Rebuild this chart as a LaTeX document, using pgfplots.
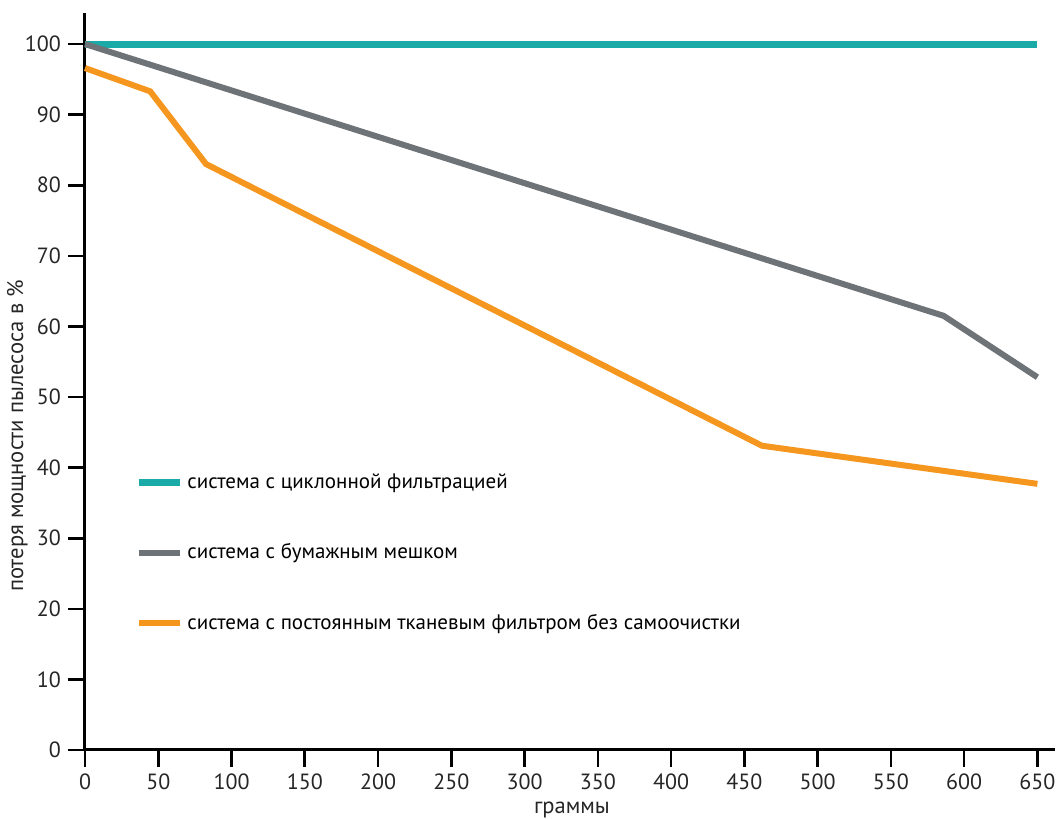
\documentclass[border=0pt]{standalone}
\usepackage{fontspec}
\setmainfont{PT Sans}
\usepackage{pgfplots}
\pgfplotsset{compat=1.18}
\definecolor{cteal}{HTML}{1AABA8}
\definecolor{cgray}{HTML}{6E7378}
\definecolor{corange}{HTML}{F5961E}
\begin{document}
\begin{tikzpicture}
\begin{axis}[
  scale only axis,
  width=485pt, height=368.5pt,
  xmin=0, xmax=662, ymin=0, ymax=104.4,
  axis x line*=bottom, axis y line*=left,
  axis line style={line width=1.5pt, -},
  xtick={0,50,...,650},
  ytick={0,10,...,100},
  xtick pos=bottom, ytick pos=left,
  xtick align=outside, ytick align=outside,
  major tick length=8.5pt,
  major tick style={line width=1.3pt, draw=black},
  /pgf/number format/assume math mode=true,
  tick label style={font=\fontsize{11}{13}\selectfont, text=black!85},
  xlabel={граммы},
  ylabel={потеря мощности пылесоса в \%},
  label style={font=\fontsize{11.3}{13}\selectfont, text=black!85, inner sep=0pt},
  xlabel style={at={(rel axis cs:0.502,-0.0855)}, anchor=base},
  ylabel style={at={(rel axis cs:-0.0588,0.426)}, anchor=south},
  clip=false,
  legend style={draw=none, fill=none, at={(axis cs:30,40.3)}, anchor=north west,
    font=\fontsize{10.5}{12}\selectfont, row sep=22pt, cells={anchor=west}},
  legend image code/.code={\draw[#1] (0pt,0pt) -- (20.5pt,0pt);},
]
\addplot[cteal, line width=3.5pt] coordinates {(0,100) (650,100)};
\addlegendentry{система с циклонной фильтрацией}
\addplot[cgray, line width=3pt] coordinates {(0,100) (586,61.5) (650,52.8)};
\addlegendentry{система с бумажным мешком}
\addplot[corange, line width=3pt] coordinates {(0,96.6) (44.5,93.3) (82.6,83.0) (462,43.1) (650,37.7)};
\addlegendentry{система с постоянным тканевым фильтром без самоочистки}
\end{axis}
\pgfresetboundingbox
\useasboundingbox ([shift={(-42.5pt,-34.5pt)}]current axis.south west) rectangle ([shift={(1pt,6.5pt)}]current axis.north east);
\end{tikzpicture}
\end{document}
